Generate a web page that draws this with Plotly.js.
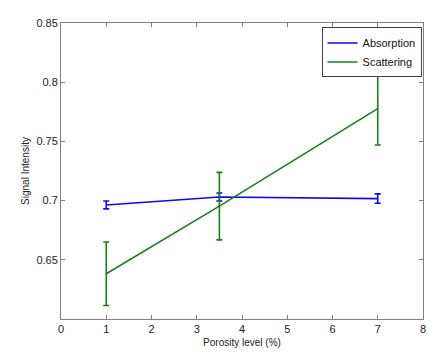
<!DOCTYPE html>
<html>
<head>
<meta charset="utf-8">
<script src="https://cdn.plot.ly/plotly-3.0.1.min.js"></script>
<style>html,body{margin:0;padding:0;background:#fff;}#chart{width:440px;height:356px;}</style>
</head>
<body>
<div id="chart"></div>
<script>
const porosity = [1, 3.5, 7];
const absorption = [0.6963, 0.7030, 0.7017];
const absorptionErr = [0.0033, 0.0034, 0.0040];
const scattering = [0.6382, 0.6953, 0.7777];
const scatteringErr = [0.0268, 0.0285, 0.0308];
const yTickVals = [0.65, 0.7, 0.75, 0.8, 0.85];
const yTickText = ['0.65', '0.7', '0.75', '0.8', '0.85'];
const xTickVals = [0, 1, 2, 3, 4, 5, 6, 7, 8];

const font = 'Liberation Sans, Arial, sans-serif';
const traces = [
  {x: porosity, y: absorption, name: 'Absorption', type: 'scatter', mode: 'lines',
   line: {color: '#0a0af0', width: 1.6},
   error_y: {type: 'data', array: absorptionErr, visible: true, color: '#0a0af0', thickness: 1.6, width: 3}},
  {x: porosity, y: scattering, name: 'Scattering', type: 'scatter', mode: 'lines',
   line: {color: '#1a7f1a', width: 1.6},
   error_y: {type: 'data', array: scatteringErr, visible: true, color: '#1a7f1a', thickness: 1.6, width: 3}}
];
const axisCommon = {showline: true, linecolor: '#808080', linewidth: 1, mirror: 'allticks',
  ticks: 'inside', ticklen: 4, tickcolor: '#808080', showgrid: false, zeroline: false,
  tickfont: {family: font, size: 11, color: '#222'}};
const layout = {
  width: 440, height: 356,
  margin: {l: 61, r: 17, t: 23, b: 37},
  paper_bgcolor: '#fff', plot_bgcolor: '#fff',
  showlegend: true,
  legend: {x: 0.996, y: 0.985, xanchor: 'right', yanchor: 'top', bgcolor: '#fff',
    bordercolor: '#444', borderwidth: 1, font: {family: font, size: 11, color: '#111'},
    itemwidth: 30, tracegroupgap: 0},
  xaxis: Object.assign({}, axisCommon, {range: [0, 8], tickvals: xTickVals,
    title: {text: 'Porosity level (%)', font: {family: font, size: 10, color: '#222'}, standoff: 4}}),
  yaxis: Object.assign({}, axisCommon, {range: [0.6, 0.85], tickvals: yTickVals, ticktext: yTickText,
    title: {text: 'Signal Intensity', font: {family: font, size: 10, color: '#222'}, standoff: 4}})
};
Plotly.newPlot('chart', traces, layout, {displayModeBar: false, staticPlot: true});
</script>
</body>
</html>
